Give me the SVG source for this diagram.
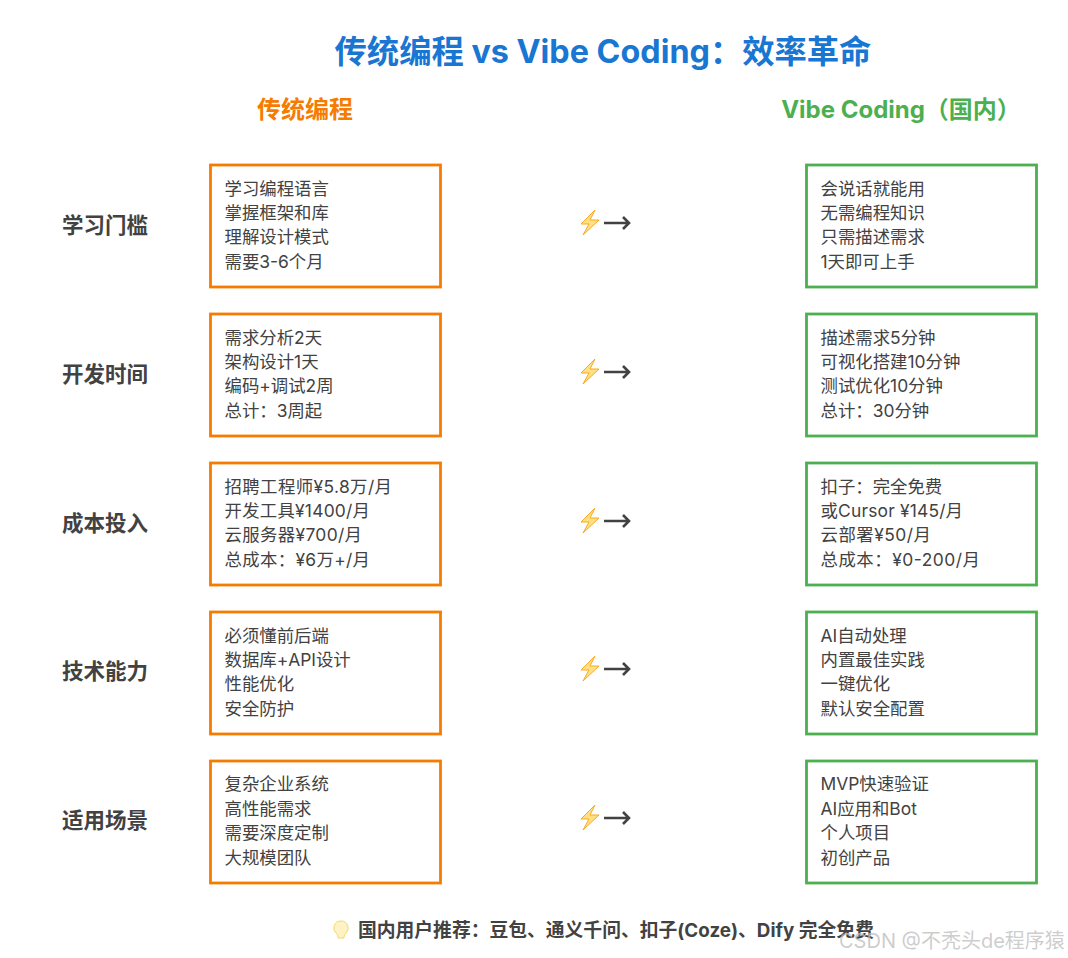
<svg xmlns="http://www.w3.org/2000/svg" width="1068" height="958" viewBox="0 0 1068 958">
<style>
text{font-family:Inter,"Noto Sans CJK SC",sans-serif}
.t{font-size:32.3px;font-weight:700;fill:#1976d2}
.h{font-size:24px;font-weight:700}
.lab{font-size:21.5px;font-weight:700;fill:#424242}
.b{font-size:17.4px;fill:#424242}
.box{fill:#fff;stroke-width:2.8}
.o{stroke:#f57c00}
.g{stroke:#4caf50}
.f{font-size:18.8px;font-weight:700;fill:#424242}
.wm{font-size:20px;fill:#bdbdbd;fill-opacity:.75}
.arr{fill:none;stroke:#424242;stroke-width:2.6;stroke-linejoin:miter}
</style>
<defs>
<path id="bolt" d="M595 210 L581 224 L589 224 L583 235 L599 220 L590 220 Z" fill="#ffe082" stroke="#f9a825" stroke-width="1" stroke-linejoin="round"/>
<path id="bulb" d="M341 921 a7 7 0 0 1 4.500 12.500 q-1.500 1.500 -1.500 3.500 v1 h-6 v-1 q0 -2 -1.500 -3.500 a7 7 0 0 1 4.500 -12.500z" fill="#fff3c4" stroke="#f5d76e"/>
</defs>
<g id="title"><text class="t" x="603" y="62.500" text-anchor="middle">传统编程 vs Vibe Coding：效率革命</text></g>
<g id="heading-left"><text class="h" x="305" y="118" text-anchor="middle" fill="#f57c00">传统编程</text></g>
<g id="heading-right"><text class="h" x="901" y="118" text-anchor="middle" fill="#4caf50">Vibe Coding（国内）</text></g>

<g id="row-labels">
<text class="lab" x="105" y="233" text-anchor="middle">学习门槛</text>
<text class="lab" x="105" y="382" text-anchor="middle">开发时间</text>
<text class="lab" x="105" y="531" text-anchor="middle">成本投入</text>
<text class="lab" x="105" y="679" text-anchor="middle">技术能力</text>
<text class="lab" x="105" y="828" text-anchor="middle">适用场景</text>
</g>

<g id="left-1"><rect class="box o" x="210.500" y="165" width="230" height="122"/>
<text class="b" x="224.500" y="195">学习编程语言</text><text class="b" x="224.500" y="219">掌握框架和库</text><text class="b" x="224.500" y="243">理解设计模式</text><text class="b" x="224.500" y="268">需要3-6个月</text></g>
<g id="left-2"><rect class="box o" x="210.500" y="314" width="230" height="122"/>
<text class="b" x="224.500" y="344">需求分析2天</text><text class="b" x="224.500" y="368">架构设计1天</text><text class="b" x="224.500" y="392">编码+调试2周</text><text class="b" x="224.500" y="417">总计：3周起</text></g>
<g id="left-3"><rect class="box o" x="210.500" y="463" width="230" height="122"/>
<text class="b" x="224.500" y="493" textLength="167.500">招聘工程师¥5.8万/月</text><text class="b" x="224.500" y="517" textLength="145.500">开发工具¥1400/月</text><text class="b" x="224.500" y="541" textLength="137.500">云服务器¥700/月</text><text class="b" x="224.500" y="566" textLength="145.500">总成本：¥6万+/月</text></g>
<g id="left-4"><rect class="box o" x="210.500" y="612" width="230" height="122"/>
<text class="b" x="224.500" y="642">必须懂前后端</text><text class="b" x="224.500" y="666">数据库+API设计</text><text class="b" x="224.500" y="690">性能优化</text><text class="b" x="224.500" y="715">安全防护</text></g>
<g id="left-5"><rect class="box o" x="210.500" y="761" width="230" height="122"/>
<text class="b" x="224.500" y="790">复杂企业系统</text><text class="b" x="224.500" y="815">高性能需求</text><text class="b" x="224.500" y="839">需要深度定制</text><text class="b" x="224.500" y="864">大规模团队</text></g>

<g id="right-1"><rect class="box g" x="806.500" y="165" width="230" height="122"/>
<text class="b" x="820.500" y="195">会说话就能用</text><text class="b" x="820.500" y="219">无需编程知识</text><text class="b" x="820.500" y="243">只需描述需求</text><text class="b" x="820.500" y="268">1天即可上手</text></g>
<g id="right-2"><rect class="box g" x="806.500" y="314" width="230" height="122"/>
<text class="b" x="820.500" y="344">描述需求5分钟</text><text class="b" x="820.500" y="368">可视化搭建10分钟</text><text class="b" x="820.500" y="392">测试优化10分钟</text><text class="b" x="820.500" y="417">总计：30分钟</text></g>
<g id="right-3"><rect class="box g" x="806.500" y="463" width="230" height="122"/>
<text class="b" x="820.500" y="493">扣子：完全免费</text><text class="b" x="820.500" y="517" textLength="142.500">或Cursor ¥145/月</text><text class="b" x="820.500" y="541" textLength="110.500">云部署¥50/月</text><text class="b" x="820.500" y="566" textLength="159.500">总成本：¥0-200/月</text></g>
<g id="right-4"><rect class="box g" x="806.500" y="612" width="230" height="122"/>
<text class="b" x="820.500" y="642">AI自动处理</text><text class="b" x="820.500" y="666">内置最佳实践</text><text class="b" x="820.500" y="690">一键优化</text><text class="b" x="820.500" y="715">默认安全配置</text></g>
<g id="right-5"><rect class="box g" x="806.500" y="761" width="230" height="122"/>
<text class="b" x="820.500" y="790">MVP快速验证</text><text class="b" x="820.500" y="815">AI应用和Bot</text><text class="b" x="820.500" y="839">个人项目</text><text class="b" x="820.500" y="864">初创产品</text></g>

<g id="connectors">
<g transform="translate(0 0)"><use href="#bolt"/><path class="arr" d="M604 223 H629 M623 217 L629 223 L623 229"/></g>
<g transform="translate(0 149)"><use href="#bolt"/><path class="arr" d="M604 223 H629 M623 217 L629 223 L623 229"/></g>
<g transform="translate(0 298)"><use href="#bolt"/><path class="arr" d="M604 223 H629 M623 217 L629 223 L623 229"/></g>
<g transform="translate(0 446)"><use href="#bolt"/><path class="arr" d="M604 223 H629 M623 217 L629 223 L623 229"/></g>
<g transform="translate(0 595)"><use href="#bolt"/><path class="arr" d="M604 223 H629 M623 217 L629 223 L623 229"/></g>
</g>

<g id="footer"><use href="#bulb"/><text class="f" x="358" y="937">国内用户推荐：豆包、通义千问、扣子(Coze)、Dify 完全免费</text></g>
<g id="watermark"><text class="wm" x="839" y="948">CSDN @不秃头de程序猿</text></g>
</svg>
